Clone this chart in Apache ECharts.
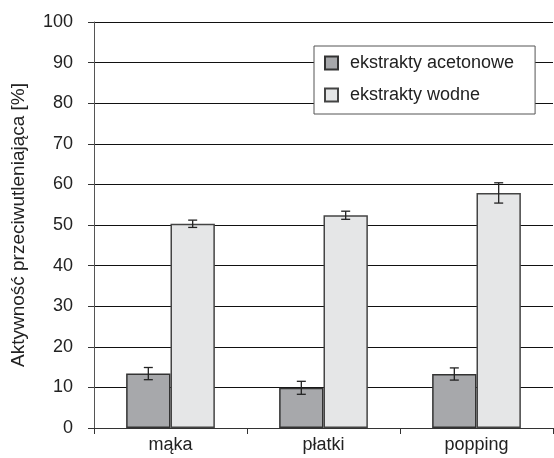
<!DOCTYPE html>
<html>
<head>
<meta charset="utf-8">
<script src="https://cdn.jsdelivr.net/npm/echarts@6/dist/echarts.min.js"></script>
<style>html,body{margin:0;padding:0;background:#fff}#c{width:554px;height:458px}</style>
</head>
<body>
<div id="c"></div>
<script>
var categories = ['mąka', 'płatki', 'popping'];
var seriesNames = ['ekstrakty acetonowe', 'ekstrakty wodne'];
var acetone = [13.4, 9.9, 13.3];
var acetoneErr = [1.5, 1.6, 1.5];
var water = [50.3, 52.4, 57.9];
var waterErr = [0.9, 1.0, 2.5];
var yTicks = [0, 10, 20, 30, 40, 50, 60, 70, 80, 90, 100];

var GAP = 0.42;
var FONT = '"Liberation Sans", Arial, sans-serif';

function errSeries(vals, errs, side) {
  var data = vals.map(function (v, i) { return [i, v - errs[i], v + errs[i]]; });
  return {
    type: 'custom',
    silent: true,
    z: 5,
    data: data,
    encode: { x: 0, y: [1, 2] },
    renderItem: function (params, api) {
      var i = api.value(0);
      var band = api.size([1, 0])[0];
      var bw = band * (1 - GAP) / 2;
      var lo = api.coord([i, api.value(1)]);
      var hi = api.coord([i, api.value(2)]);
      var x = lo[0] + side * bw / 2;
      var cap = 4.5;
      var st = { stroke: '#222', lineWidth: 1.3 };
      return {
        type: 'group',
        children: [
          { type: 'line', shape: { x1: x, y1: lo[1], x2: x, y2: hi[1] }, style: st },
          { type: 'line', shape: { x1: x - cap, y1: lo[1], x2: x + cap, y2: lo[1] }, style: st },
          { type: 'line', shape: { x1: x - cap, y1: hi[1], x2: x + cap, y2: hi[1] }, style: st }
        ]
      };
    }
  };
}

var chart = echarts.init(document.getElementById('c'));
chart.setOption({
  animation: false,
  backgroundColor: '#fff',
  textStyle: { fontFamily: FONT },
  grid: { left: 94, right: 1, top: 22, bottom: 30 },
  legend: {
    orient: 'vertical',
    left: 314,
    top: 46,
    data: seriesNames,
    backgroundColor: '#fff',
    borderColor: '#555',
    borderWidth: 1,
    padding: [7, 21, 9, 10],
    itemWidth: 13,
    itemHeight: 13,
    itemGap: 12,
    icon: 'rect',
    textStyle: { fontSize: 18, lineHeight: 20, color: '#222', fontFamily: FONT, padding: [0, 0, 0, 7] }
  },
  xAxis: {
    type: 'category',
    data: categories,
    axisLine: { lineStyle: { color: '#333', width: 1 } },
    axisTick: { show: true, length: 6, lineStyle: { color: '#333' } },
    axisLabel: { fontSize: 18, color: '#222', margin: 8, fontFamily: FONT },
    splitLine: { show: false }
  },
  yAxis: {
    type: 'value',
    min: 0,
    max: 100,
    interval: 10,
    name: 'Aktywność przeciwutleniająca [%]',
    nameLocation: 'middle',
    nameGap: 66,
    nameTextStyle: { fontSize: 19, color: '#222', fontFamily: FONT },
    axisLine: { show: true, lineStyle: { color: '#555', width: 1 } },
    axisTick: { show: true, length: 6, lineStyle: { color: '#333' } },
    axisLabel: {
      fontSize: 18, color: '#222', margin: 21, fontFamily: FONT,
      formatter: function (v) { return yTicks.indexOf(v) >= 0 ? String(v) : ''; }
    },
    splitLine: { show: true, lineStyle: { color: '#111', width: 1 } }
  },
  series: [
    {
      name: seriesNames[0],
      type: 'bar',
      data: acetone,
      barGap: '0%',
      barCategoryGap: '42%',
      z: 3,
      itemStyle: { color: '#a7a8ab', borderColor: '#333', borderWidth: 1.5 }
    },
    {
      name: seriesNames[1],
      type: 'bar',
      data: water,
      barGap: '0%',
      barCategoryGap: '42%',
      z: 3,
      itemStyle: { color: '#e5e6e7', borderColor: '#444', borderWidth: 1.5 }
    },
    errSeries(acetone, acetoneErr, -1),
    errSeries(water, waterErr, 1)
  ]
});
</script>
</body>
</html>
